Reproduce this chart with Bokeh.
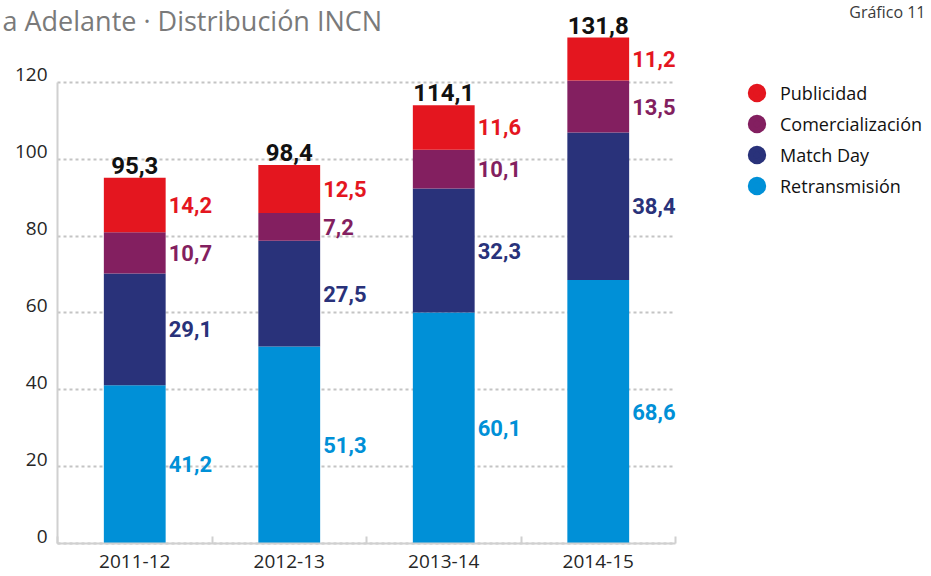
from bokeh.plotting import figure
from bokeh.models import (ColumnDataSource, Range1d, FixedTicker, Legend, LegendItem,
                          Label, LabelSet, LinearAxis)
from bokeh.core.properties import value
from bokeh.embed import file_html
from bokeh.resources import INLINE

# ---- data ----
seasons = ["2011-12", "2012-13", "2013-14", "2014-15"]
retransmision = [41.2, 51.3, 60.1, 68.6]
match_day = [29.1, 27.5, 32.3, 38.4]
comercializacion = [10.7, 7.2, 10.1, 13.5]
publicidad = [14.2, 12.5, 11.6, 11.2]
totales = [95.3, 98.4, 114.1, 131.8]
series_names = ["Retransmisión", "Match Day", "Comercialización", "Publicidad"]
series_keys = ["ret", "md", "com", "pub"]
colors = ["#0090d7", "#29327a", "#831f60", "#e4161f"]
y_ticks = [0, 20, 40, 60, 80, 100, 120]
title_text = "a Adelante · Distribución INCN"
chart_tag = "Gráfico 11"

# ---- layout constants (pixels of the 931x576 canvas) ----
W, H = 931, 576
ORIGIN_X, ORIGIN_Y = 57, 543       # where (0, 0) of the chart sits
PX_X, PX_Y = 154.5, 3.8417         # px per category, px per unit
X0, X1 = -ORIGIN_X / PX_X, (W - ORIGIN_X) / PX_X
Y0, Y1 = -(H - ORIGIN_Y) / PX_Y, ORIGIN_Y / PX_Y
LABEL_LIFT = 7.5 / PX_Y            # y tick labels rest on their gridline

FONT = "Open Sans"
BOLD_FONT = "Roboto"

def fmt(v):
    return f"{v:.1f}".replace(".", ",")

def y_at(py):
    return (ORIGIN_Y - py) / PX_Y

xs = [i + 0.5 for i in range(len(seasons))]
series_vals = [retransmision, match_day, comercializacion, publicidad]

src = ColumnDataSource(dict(x=xs, **{k: v for k, v in zip(series_keys, series_vals)}))

p = figure(width=W, height=H, output_backend="svg", toolbar_location=None,
           x_range=Range1d(X0, X1), y_range=Range1d(Y0, Y1), min_border=0)
p.outline_line_color = None
p.background_fill_color = "white"
p.border_fill_color = "white"
p.extra_y_ranges = {"labels": Range1d(Y0 - LABEL_LIFT, Y1 - LABEL_LIFT)}

# grid (dotted, only across the chart)
p.xgrid.visible = False
yg = p.ygrid[0]
yg.ticker = FixedTicker(ticks=y_ticks, minor_ticks=[])
yg.grid_line_color = "#c4c4c4"
yg.grid_line_dash = "3 3"
yg.grid_line_width = 2
try:
    yg.cross_bounds = (0, len(seasons))
except AttributeError:
    yg.visible = False
    p.segment(x0=[0] * len(y_ticks), x1=[len(seasons)] * len(y_ticks), y0=y_ticks,
              y1=y_ticks, line_color="#c4c4c4", line_dash="3 3", line_width=2)

bars = p.vbar_stack(series_keys, x="x", width=0.4, color=colors, line_width=0,
                    source=src)

# segment value labels
lx, ly, lt, lc = [], [], [], []
base = [0.0] * len(seasons)
for vals, col in zip(series_vals, colors):
    for i, v in enumerate(vals):
        lx.append(xs[i])
        ly.append(base[i] + v / 2)
        lt.append(fmt(v))
        lc.append(col)
        base[i] += v
lab_src = ColumnDataSource(dict(x=lx, y=ly, text=lt, color=lc))
p.add_layout(LabelSet(x="x", y="y", text="text", source=lab_src, text_color="color",
                      text_font=value(BOLD_FONT), text_font_style="bold",
                      text_font_size="22px", text_align="left",
                      text_baseline="middle", x_offset=34, y_offset=0))

tot_src = ColumnDataSource(dict(x=xs, y=base, text=[fmt(t) for t in totales]))
p.add_layout(LabelSet(x="x", y="y", text="text", source=tot_src, text_color="#111111",
                      text_font=value(BOLD_FONT), text_font_style="bold",
                      text_font_size="24px", text_align="center",
                      text_baseline="bottom", y_offset=4))

# main y axis: the line only, fixed at x = 0
yax = p.yaxis[0]
yax.fixed_location = 0
yax.ticker = FixedTicker(ticks=y_ticks, minor_ticks=[])
yax.bounds = (0, 120)
yax.axis_line_color = "#d0d0d0"
yax.axis_line_width = 2
yax.major_tick_out = 0
yax.major_tick_in = 0
yax.major_label_standoff = 0
yax.major_label_overrides = {t: "" for t in y_ticks}

# label axis (tick labels resting on the gridlines)
lab_ax = LinearAxis(y_range_name="labels", fixed_location=0,
                    ticker=FixedTicker(ticks=y_ticks, minor_ticks=[]))
lab_ax.axis_line_color = None
lab_ax.major_tick_out = 0
lab_ax.major_tick_in = 0
lab_ax.major_label_standoff = 10
lab_ax.major_label_text_font = FONT
lab_ax.major_label_text_font_size = "19px"
lab_ax.major_label_text_color = "#262626"
p.add_layout(lab_ax, "left")

xax = p.xaxis[0]
xax.fixed_location = 0
xax.ticker = FixedTicker(ticks=xs, minor_ticks=list(range(len(seasons) + 1)))
xax.major_label_overrides = {x: s for x, s in zip(xs, seasons)}
xax.bounds = (0, len(seasons))
xax.axis_line_color = "#d0d0d0"
xax.axis_line_width = 2
xax.major_tick_in = 0
xax.major_tick_out = 0
xax.minor_tick_in = 7
xax.minor_tick_out = 0
xax.minor_tick_line_color = "#d0d0d0"
xax.minor_tick_line_width = 2
xax.major_label_standoff = 11
xax.major_label_text_font = FONT
xax.major_label_text_font_size = "19px"
xax.major_label_text_color = "#262626"

# legend (circle markers)
nan = float("nan")
items = []
for name, col in reversed(list(zip(series_names, colors))):
    r = p.scatter(x=[nan], y=[nan], marker="circle", fill_color=col, line_color=col,
                  line_width=6)
    items.append(LegendItem(label=name, renderers=[r]))
legend = Legend(items=items, location=(741, 375), glyph_width=31, glyph_height=31,
                spacing=0, label_standoff=8, padding=0, margin=0,
                border_line_color=None, background_fill_alpha=0,
                label_text_font=FONT, label_text_font_size="18px",
                label_text_color="#111111")
p.add_layout(legend)

# header texts
p.add_layout(Label(x=X0, y=y_at(20), x_offset=2, text=title_text,
                   text_font=FONT, text_font_size="27px", text_color="#7a7a7a",
                   text_baseline="alphabetic"))
p.add_layout(Label(x=X1, y=y_at(11), x_offset=-6, text=chart_tag,
                   text_font=FONT, text_font_size="16px", text_color="#3a3a3a",
                   text_align="right", text_baseline="alphabetic"))

open("out.html", "w").write(file_html(p, INLINE))
